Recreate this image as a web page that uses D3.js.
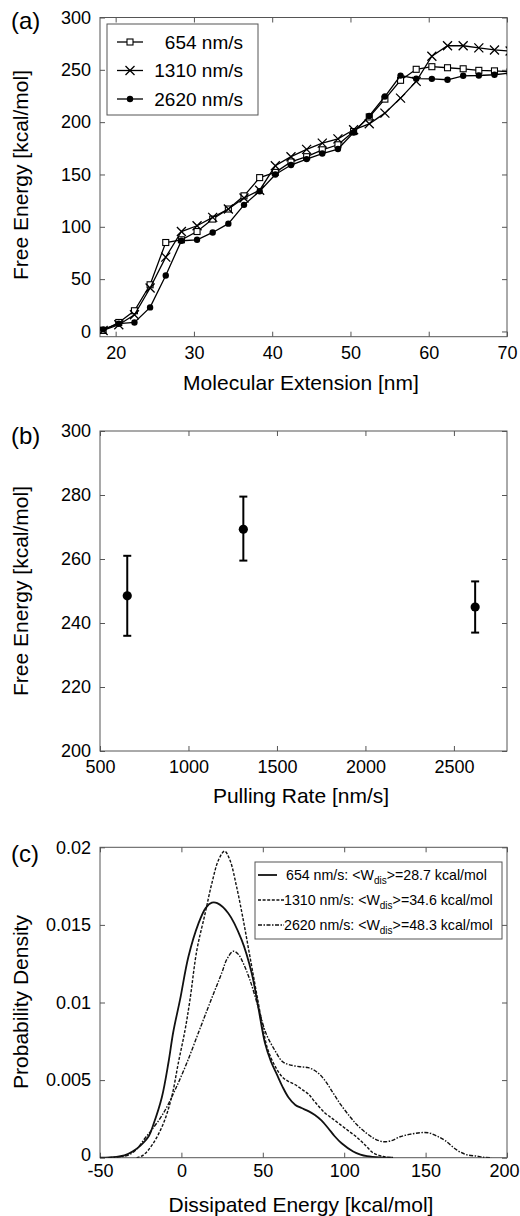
<!DOCTYPE html>
<html>
<head>
<meta charset="utf-8">
<script src="https://cdn.jsdelivr.net/npm/d3@7"></script>
<style>
  body { margin: 0; background: #fff; }
  svg text { font-family: "Liberation Sans", Arial, sans-serif; fill: #000; }
</style>
</head>
<body>
<svg id="fig" width="520" height="1216"></svg>
<script>
// ---- (a) free energy vs extension
const extension = [18.4, 20.4, 22.4, 24.4, 26.4, 28.4, 30.4, 32.4, 34.4, 36.4, 38.4, 40.4, 42.4,
                   44.4, 46.4, 48.4, 50.4, 52.4, 54.4, 56.4, 58.4, 60.4, 62.4, 64.4, 66.4, 68.4, 70.4];
const fe654  = [1, 8.6, 19.8, 44.6, 85, 87.6, 95.5, 107.4, 117, 129.6, 147, 152, 162,
                167, 173.6, 178.4, 191, 205, 222, 240, 250.5, 253, 252, 251, 249.5, 249, 248];
const fe1310 = [1, 6.4, 16, 41.5, 71, 95.5, 101, 109, 117, 127.5, 135, 158.3, 167,
                174, 180, 184, 192.7, 198.4, 208.6, 223, 239, 263, 273, 273, 271, 269, 268];
const fe2620 = [2, 7.4, 8.6, 23, 53.5, 86.7, 87.6, 94.6, 103, 121, 134, 150, 159,
                164.7, 170, 174.3, 190, 206, 224.5, 244.5, 241.5, 241.4, 240.5, 244.3, 244.6, 245.3, 247];
const seriesLabels = ["654 nm/s", "1310 nm/s", "2620 nm/s"];
const extTicks = [20, 30, 40, 50, 60, 70];
const feTicks = [0, 50, 100, 150, 200, 250, 300];

// ---- (b) free energy vs pulling rate
const rates = [654, 1310, 2620];
const rateMean = [248.5, 269.3, 245];
const rateLow = [236, 259.5, 237];
const rateHigh = [261, 279.5, 253];
const rateTicks = [500, 1000, 1500, 2000, 2500];
const rateFeTicks = [200, 220, 240, 260, 280, 300];

// ---- (c) dissipated work distributions
const wd654X = [-50, -44, -40, -35, -30, -25, -20, -17, -12, -8, -5, -0.8, 4.3, 10.5, 15, 18.7, 22, 28.8, 37, 43.2,
                47.2, 51.3, 55, 58.5, 62, 65.7, 70, 73.8, 78, 82, 86, 90.2, 94, 98.4, 105.5, 110, 114, 122, 130];
const wd654Y = [0, 0.00002, 0.00006, 0.00015, 0.0004, 0.0008, 0.0014, 0.0022, 0.0039, 0.0061, 0.0081, 0.0102, 0.01295, 0.0151, 0.0161, 0.01643, 0.0164, 0.01575, 0.01403, 0.01188,
                0.0097, 0.0074, 0.0062, 0.0054, 0.0046, 0.0039, 0.0034, 0.0032, 0.0030, 0.00275, 0.0024, 0.0019, 0.0014, 0.00093, 0.0004, 0.0002, 0.0001, 0.00002, 0];
const wd1310X = [-27.5, -23.4, -17.3, -11.1, -6, -1.9, 2.2, 5.3, 9.5, 14.6, 18.7, 22.8, 26.5, 29.8, 33.9, 38, 42.1,
                 47.2, 50, 53, 57.5, 62, 66, 70, 74, 78, 82, 88, 93, 98, 103, 108, 113, 118, 124, 130];
const wd1310Y = [0, 0.00017, 0.00093, 0.0022, 0.0039, 0.0061, 0.0082, 0.0102, 0.01338, 0.01575, 0.01768, 0.01918, 0.01975, 0.01918, 0.01746, 0.01532, 0.01295,
                 0.0100, 0.0084, 0.0070, 0.0059, 0.0052, 0.0049, 0.0047, 0.0044, 0.0041, 0.0036, 0.0029, 0.0025, 0.0021, 0.0017, 0.0013, 0.0008, 0.0003, 0.00008, 0];
const wd2620X = [-45, -38, -32, -27, -22.4, -18.3, -11.1, -3.9, 3.3, 11, 17.6, 24.7, 28, 31.9, 35, 38, 42.1, 47.2,
                 52, 57.5, 62, 66, 72.9, 78, 83, 88, 93.3, 98, 103.6, 108, 113.8, 119, 124, 129, 134.3, 140,
                 146.6, 152, 156.8, 162, 169.1, 175, 181.4, 186, 190.6];
const wd2620Y = [0, 0.00005, 0.0002, 0.0006, 0.00125, 0.00178, 0.00286, 0.00436, 0.0061, 0.0082, 0.0100, 0.01188, 0.0128, 0.0133, 0.0131, 0.01253, 0.01145, 0.0097,
                 0.0080, 0.0069, 0.0062, 0.0060, 0.00586, 0.0058, 0.00554, 0.0050, 0.00415, 0.0034, 0.00264, 0.0021, 0.00157, 0.0012, 0.00103, 0.0011, 0.00135, 0.0015,
                 0.00161, 0.0016, 0.0014, 0.0011, 0.0005, 0.0002, 0.0001, 0.00002, 0];
const wdLabels = ["654 nm/s: <W", "1310 nm/s: <W", "2620 nm/s: <W"];
const wdMeans = ["28.7", "34.6", "48.3"];
const wdTicks = [-50, 0, 50, 100, 150, 200];
const pdTicks = [0, 0.005, 0.01, 0.015, 0.02];

const svg = d3.select("#fig");
const left = 100, right = 507;
const frameColor = "#555";
const plain = d => String(d);

function drawFrame(g, x, y, xTicks, yTicks, xPad) {
    const [y0, y1] = y.range();
    const [x0, x1] = x.range();

    const axes = [
        [d3.axisBottom(x).tickValues(xTicks).tickFormat(plain).tickPadding(xPad), `translate(0,${y0})`],
        [d3.axisTop(x).tickValues(xTicks).tickFormat(""), `translate(0,${y1})`],
        [d3.axisLeft(y).tickValues(yTicks).tickFormat(plain).tickPadding(9), `translate(${x0},0)`],
        [d3.axisRight(y).tickValues(yTicks).tickFormat(""), `translate(${x1},0)`]
    ];
    const made = axes.map(([ax, tr]) => {
        const a = g.append("g")
            .attr("transform", tr)
            .call(ax.tickSizeInner(-5).tickSizeOuter(0))
            .attr("font-size", 18)
            .attr("font-family", null);
        a.select(".domain").remove();
        a.selectAll(".tick line").attr("stroke", frameColor);
        return a;
    });

    g.append("rect")
        .attr("x", x0).attr("y", y1)
        .attr("width", x1 - x0).attr("height", y0 - y1)
        .attr("fill", "none")
        .attr("stroke", frameColor)
        .attr("stroke-width", 1);

    return {bottom: made[0], left: made[2]};
}

function addClip(id, x, y) {
    svg.append("clipPath").attr("id", id)
        .append("rect")
        .attr("x", x.range()[0]).attr("y", y.range()[1])
        .attr("width", x.range()[1] - x.range()[0])
        .attr("height", y.range()[0] - y.range()[1]);
}

function yTitle(text, cy) {
    svg.append("text")
        .attr("transform", `translate(28,${cy}) rotate(-90)`)
        .attr("text-anchor", "middle")
        .attr("font-size", 21)
        .text(text);
}

function xTitle(text, baseline) {
    svg.append("text")
        .attr("x", 301).attr("y", baseline)
        .attr("text-anchor", "middle")
        .attr("font-size", 21)
        .text(text);
}

function panelLabel(text, baseline) {
    svg.append("text")
        .attr("x", 11).attr("y", baseline)
        .attr("font-size", 24)
        .text(text);
}

function marker(g, kind, cx, cy) {
    if (kind === 0) {
        g.append("rect")
            .attr("x", cx - 3).attr("y", cy - 3)
            .attr("width", 6).attr("height", 6)
            .attr("fill", "#fff").attr("stroke", "#000").attr("stroke-width", 1.1);
    } else if (kind === 1) {
        g.append("path")
            .attr("d", `M${cx - 4.5},${cy - 4.5}L${cx + 4.5},${cy + 4.5}M${cx - 4.5},${cy + 4.5}L${cx + 4.5},${cy - 4.5}`)
            .attr("stroke", "#000").attr("stroke-width", 1.3);
    } else {
        g.append("circle")
            .attr("cx", cx).attr("cy", cy).attr("r", 3.2)
            .attr("fill", "#000");
    }
}

// ================= (a)
{
    const x = d3.scaleLinear().domain([18, 70]).range([left, right]);
    const y = d3.scaleLinear().domain([-5, 300]).range([336.7, 17.5]);
    const g = svg.append("g");
    drawFrame(g, x, y, extTicks, feTicks, 10);
    addClip("clipA", x, y);

    const line = d3.line().x(d => x(d[0])).y(d => y(d[1]));
    const plot = g.append("g").attr("clip-path", "url(#clipA)");
    [fe654, fe1310, fe2620].forEach((vals, i) => {
        const pts = extension.map((e, j) => [e, vals[j]]);
        plot.append("path")
            .attr("d", line(pts))
            .attr("fill", "none")
            .attr("stroke", "#000")
            .attr("stroke-width", 1.3);
        pts.forEach(p => marker(plot, i, x(p[0]), y(p[1])));
    });

    // legend
    const lg = svg.append("g");
    lg.append("rect")
        .attr("x", 107).attr("y", 24).attr("width", 151).attr("height", 91)
        .attr("fill", "#fff").attr("stroke", frameColor);
    seriesLabels.forEach((s, i) => {
        const ly = 42 + i * 28.5;
        lg.append("line")
            .attr("x1", 117).attr("x2", 143).attr("y1", ly).attr("y2", ly)
            .attr("stroke", "#000").attr("stroke-width", 1.3);
        marker(lg, i, 130, ly);
        lg.append("text")
            .attr("x", 243).attr("y", ly)
            .attr("dy", "0.36em")
            .attr("text-anchor", "end")
            .attr("font-size", 19)
            .text(s);
    });

    panelLabel("(a)", 29);
    yTitle("Free Energy [kcal/mol]", 175);
    xTitle("Molecular Extension [nm]", 390);
}

// ================= (b)
{
    const x = d3.scaleLinear().domain([500, 2800]).range([left, right]);
    const y = d3.scaleLinear().domain([200, 300]).range([751, 431]);
    const g = svg.append("g");
    drawFrame(g, x, y, rateTicks, rateFeTicks, 9);

    rates.forEach((r, i) => {
        const cx = x(r);
        g.append("line")
            .attr("x1", cx).attr("x2", cx)
            .attr("y1", y(rateLow[i])).attr("y2", y(rateHigh[i]))
            .attr("stroke", "#000").attr("stroke-width", 2);
        [rateLow[i], rateHigh[i]].forEach(v => {
            g.append("line")
                .attr("x1", cx - 4).attr("x2", cx + 4)
                .attr("y1", y(v)).attr("y2", y(v))
                .attr("stroke", "#000").attr("stroke-width", 2);
        });
        g.append("circle")
            .attr("cx", cx).attr("cy", y(rateMean[i]))
            .attr("r", 4.6).attr("fill", "#000");
    });

    panelLabel("(b)", 444);
    yTitle("Free Energy [kcal/mol]", 591);
    xTitle("Pulling Rate [nm/s]", 803);
}

// ================= (c)
{
    const x = d3.scaleLinear().domain([-50, 200]).range([left, right]);
    const y = d3.scaleLinear().domain([0, 0.02]).range([1157.7, 847.3]);
    const g = svg.append("g");
    const axes = drawFrame(g, x, y, wdTicks, pdTicks, 7);
    // last label sits at the page edge; keep it inside
    axes.bottom.selectAll(".tick text")
        .filter(d => d === 200)
        .attr("text-anchor", "end")
        .attr("x", 12);
    // lift the corner "0" a little, as in the original
    axes.left.selectAll(".tick text")
        .filter(d => d === 0)
        .attr("y", -3);
    addClip("clipC", x, y);

    const dashes = [null, "3,1.6", "4,1.5,1.5,1.5"];
    const widths = [1.8, 1.4, 1.4];
    const line = d3.line()
        .x(d => x(d[0])).y(d => y(d[1]))
        .curve(d3.curveCatmullRom.alpha(0.5));
    const plot = g.append("g").attr("clip-path", "url(#clipC)");
    [[wd654X, wd654Y], [wd1310X, wd1310Y], [wd2620X, wd2620Y]].forEach(([xs, ys], i) => {
        plot.append("path")
            .attr("d", line(xs.map((v, j) => [v, ys[j]])))
            .attr("fill", "none")
            .attr("stroke", "#111")
            .attr("stroke-width", widths[i])
            .attr("stroke-dasharray", dashes[i]);
    });

    // legend
    const lg = svg.append("g");
    lg.append("rect")
        .attr("x", 255).attr("y", 862).attr("width", 247).attr("height", 77)
        .attr("fill", "#fff").attr("stroke", frameColor);
    wdLabels.forEach((s, i) => {
        const ly = 875 + i * 25;
        lg.append("line")
            .attr("x1", 258).attr("x2", i === 0 ? 277 : 284)
            .attr("y1", ly).attr("y2", ly)
            .attr("stroke", "#111")
            .attr("stroke-width", widths[i])
            .attr("stroke-dasharray", dashes[i]);
        const t = lg.append("text")
            .attr("x", i === 0 ? 286 : 284).attr("y", ly + 5)
            .attr("font-size", 14.2);
        t.append("tspan").text(s);
        t.append("tspan").attr("dy", 4).attr("font-size", 10).text("dis");
        t.append("tspan").attr("dy", -4).text(`>=${wdMeans[i]} kcal/mol`);
    });

    panelLabel("(c)", 862);
    yTitle("Probability Density", 1002);
    xTitle("Dissipated Energy [kcal/mol]", 1212);
}
</script>
</body>
</html>
